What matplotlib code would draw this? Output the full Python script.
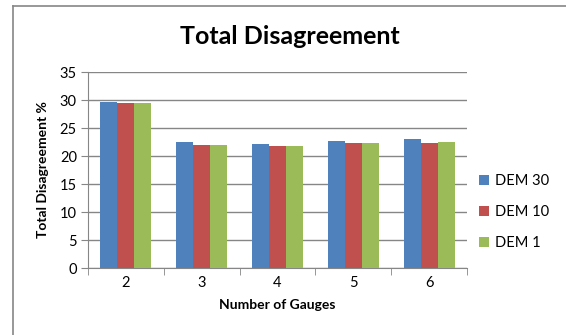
import matplotlib.pyplot as plt
import numpy as np
from matplotlib.lines import Line2D

plt.rcParams['font.family'] = ['Lato', 'DejaVu Sans']

gauges = ["2", "3", "4", "5", "6"]
dem30 = [29.7, 22.5, 22.2, 22.65, 22.95]
dem10 = [29.4, 22.0, 21.7, 22.3, 22.4]
dem1 = [29.4, 22.0, 21.7, 22.3, 22.55]

series = [("DEM 30", dem30, "#4F81BD"),
          ("DEM 10", dem10, "#C0504D"),
          ("DEM 1", dem1, "#9BBB59")]

fig = plt.figure(figsize=(5.66, 3.35), dpi=100)
ax = fig.add_axes([88 / 566, 1 - 268 / 335, 379 / 566, 196 / 335])

x = np.arange(len(gauges))
w = 0.225
for i, (name, vals, col) in enumerate(series):
    ax.bar(x + (i - 1) * w, vals, w, color=col, label=name, zorder=3)

ax.set_xlim(-0.5, len(gauges) - 0.5)
ax.set_ylim(0, 35)
ax.set_yticks(range(0, 36, 5))
ax.set_xticks(x)
ax.set_xticklabels(gauges)
ax.set_xticks(np.arange(-0.5, len(gauges), 1), minor=True)
ax.tick_params(axis='x', which='major', length=0, labelsize=10.5, pad=6)
ax.tick_params(axis='x', which='minor', length=5, color='#868686')
ax.tick_params(axis='y', length=5, color='#868686', labelsize=10.5, pad=3)
ax.yaxis.grid(True, color='#868686', linewidth=1, zorder=0)

for s in ['top', 'right']:
    ax.spines[s].set_visible(False)
for s in ['left', 'bottom']:
    ax.spines[s].set_color('#868686')

ax.set_ylabel("Total Disagreement %", fontsize=10, fontweight='bold', labelpad=8)
ax.set_xlabel("Number of Gauges", fontsize=10, fontweight='bold', labelpad=6)
fig.text(290 / 566, 1 - 37 / 335, "Total Disagreement", fontsize=18,
         fontweight='bold', ha='center', va='center')

fig.legend(*ax.get_legend_handles_labels(), loc='center left',
           bbox_to_anchor=(466 / 566, 1 - 212 / 335), frameon=False,
           fontsize=10.5, handlelength=0.7, handleheight=0.7,
           handletextpad=0.4, labelspacing=1.15)

# chart frame (top and left edges)
fig.add_artist(Line2D([13 / 566, 13 / 566], [0, 1 - 6 / 335],
                      transform=fig.transFigure, color='#868686', lw=1.2))
fig.add_artist(Line2D([13 / 566, 1], [1 - 6 / 335, 1 - 6 / 335],
                      transform=fig.transFigure, color='#868686', lw=1.2))

fig.savefig("out.png", dpi=100)
